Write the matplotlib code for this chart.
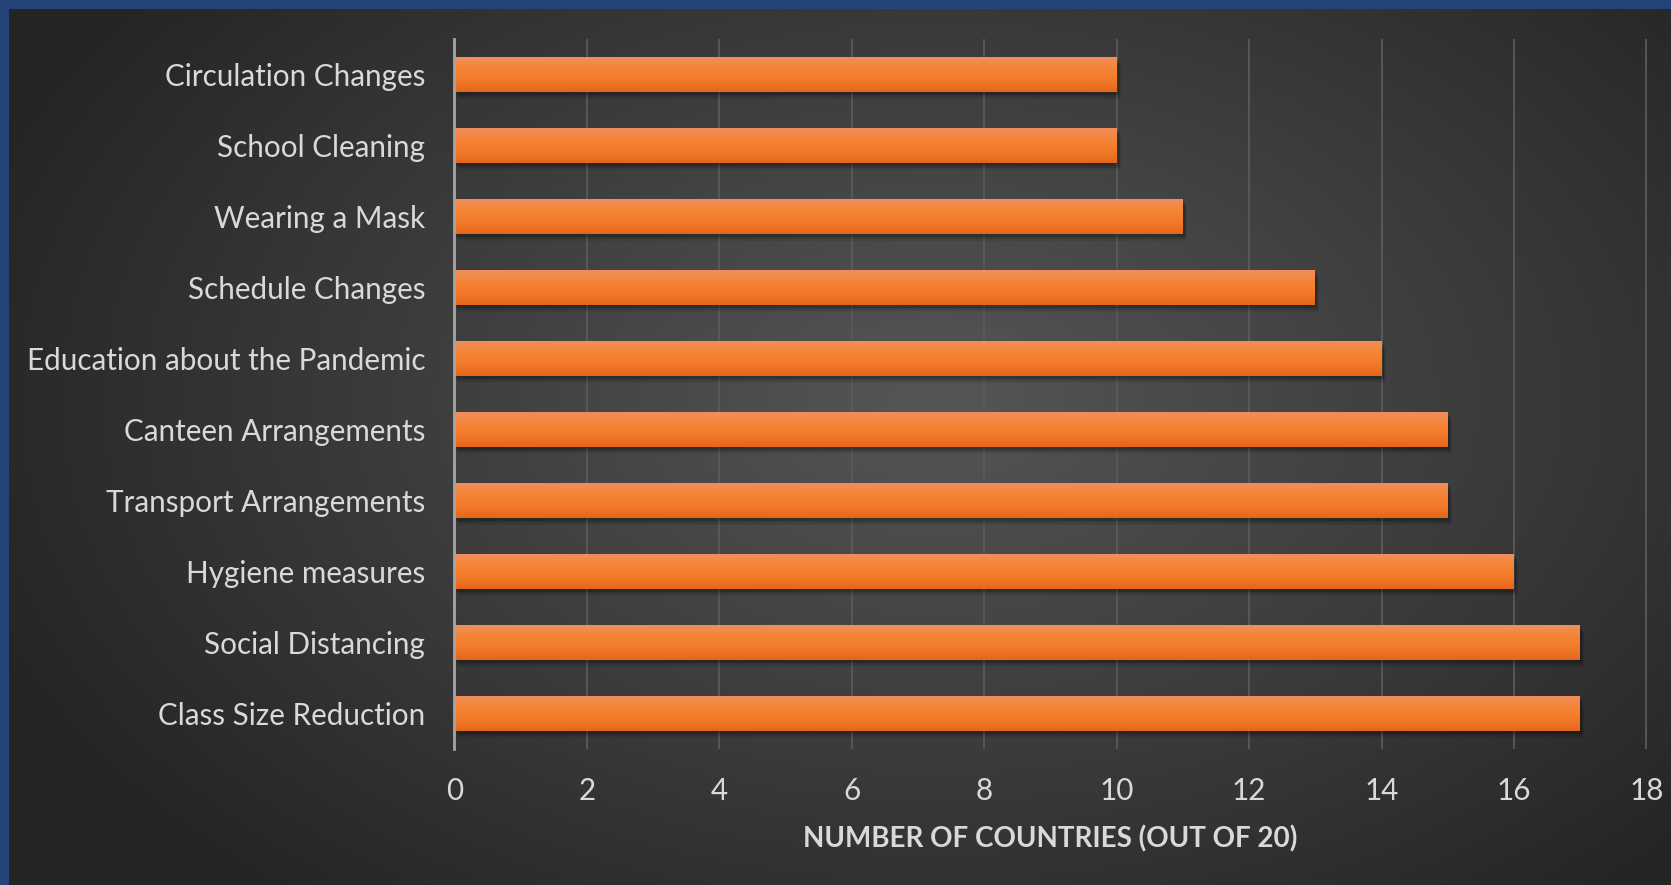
import numpy as np
import matplotlib
matplotlib.use("Agg")
import matplotlib.pyplot as plt
import matplotlib.transforms as mtransforms
from matplotlib.colors import LinearSegmentedColormap

categories = ["Class Size Reduction", "Social Distancing", "Hygiene measures",
              "Transport Arrangements", "Canteen Arrangements",
              "Education about the Pandemic", "Schedule Changes",
              "Wearing a Mask", "School Cleaning", "Circulation Changes"]
values = [17, 17, 16, 15, 15, 14, 13, 11, 10, 10]
xticks = [0, 2, 4, 6, 8, 10, 12, 14, 16, 18]
xlabel = "NUMBER OF COUNTRIES (OUT OF 20)"

plt.rcParams['font.family'] = ['Lato', 'DejaVu Sans']
W, H = 1671, 885
fig = plt.figure(figsize=(W / 100, H / 100), dpi=100)

# background: blue frame + radial dark-gray gradient
bg = fig.add_axes([0, 0, 1, 1])
bg.set_axis_off()
yy, xx = np.mgrid[0:H, 0:W]
cx, cy = 0.56 * W, 0.45 * H
r = np.sqrt(((xx - cx) / (0.62 * W)) ** 2 + ((yy - cy) / (0.75 * H)) ** 2)
r = np.clip(r, 0, 1)
c0 = np.array([0x56, 0x56, 0x56]) / 255
c1 = np.array([0x24, 0x24, 0x24]) / 255
img = c0[None, None, :] * (1 - r[..., None]) + c1[None, None, :] * r[..., None]
blue = np.array([0x24, 0x43, 0x78]) / 255
img[:9, :, :] = blue
img[:, :9, :] = blue
bg.imshow(img, extent=[0, 1, 0, 1], aspect='auto', origin='upper')
bg.set_xlim(0, 1)
bg.set_ylim(0, 1)

ax = fig.add_axes([454.5 / W, 1 - 749 / H, (1646.5 - 454.5) / W, (749 - 39) / H])
ax.set_facecolor('none')
ypos = np.arange(len(categories))
bh = 0.48

# drop shadows
for k, (dx, dy, a) in enumerate([(2, -3, 0.18), (3, -5, 0.12), (4, -7, 0.07)]):
    off = mtransforms.offset_copy(ax.transData, fig=fig, x=dx, y=dy, units='dots')
    ax.barh(ypos, values, height=bh, color='black', alpha=a, transform=off,
            zorder=2, linewidth=0)

bars = ax.barh(ypos, values, height=bh, color='#f47b2b', zorder=3, linewidth=0)
grad_cmap = LinearSegmentedColormap.from_list(
    'og', ['#e5661a', '#f27a2a', '#f58434', '#f08f5c'])
grad = np.linspace(0, 1, 64).reshape(-1, 1)
for b in bars:
    x0, y0 = b.get_x(), b.get_y()
    im = ax.imshow(grad, cmap=grad_cmap, origin='lower', aspect='auto',
                   extent=[x0, x0 + b.get_width(), y0, y0 + b.get_height()],
                   zorder=4, interpolation='bilinear')
    im.set_clip_path(b)

ax.set_xlim(0, 18)
ax.set_ylim(-0.5, len(categories) - 0.5)
ax.set_xticks(xticks)
ax.set_yticks(ypos)
ax.set_yticklabels(categories)
ax.grid(axis='x', color='#5a5a5a', linewidth=1.3, zorder=0)
ax.set_axisbelow(True)
for s in ['top', 'right', 'bottom']:
    ax.spines[s].set_visible(False)
ax.spines['left'].set_color('#a6a6a6')
ax.spines['left'].set_linewidth(2)
ax.spines['left'].set_zorder(5)
ax.tick_params(axis='both', length=0, colors='#d9d9d9', labelsize=21.3)
ax.tick_params(axis='y', pad=21)
ax.tick_params(axis='x', pad=20)
ax.set_xlabel(xlabel, color='#d9d9d9', fontsize=20, fontweight='bold', labelpad=15)

fig.savefig('out.png', dpi=100)
